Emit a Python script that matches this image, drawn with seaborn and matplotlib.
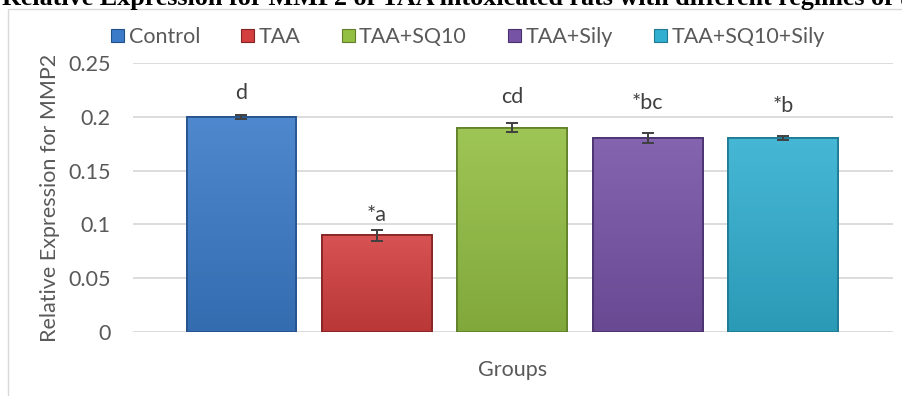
import numpy as np
import pandas as pd
import matplotlib
matplotlib.use('Agg')
import matplotlib.pyplot as plt
import matplotlib.colors as mcolors
import seaborn as sns
from matplotlib.patches import Patch, Rectangle

# Chart data
groups = ['Control', 'TAA', 'TAA+SQ10', 'TAA+Sily', 'TAA+SQ10+Sily']
expression = [0.20, 0.09, 0.19, 0.18, 0.18]
errors = [0.002, 0.005, 0.0045, 0.0045, 0.002]
letters = ['d', '*a', 'cd', '*bc', '*b']
ytick_values = [0, 0.05, 0.1, 0.15, 0.2, 0.25]
ytick_labels = ['0', '0.05', '0.1', '0.15', '0.2', '0.25']

colors = ['#3b7bc8', '#d33f3f', '#93bf43', '#7753a6', '#31afd0']
edges = ['#24508a', '#842222', '#607f28', '#47306c', '#1d7890']
text_grey = '#595959'
fs = 15.5

df = pd.DataFrame({'Group': groups, 'Expression': expression})

sns.set_style('white')
plt.rcParams['font.family'] = ['Lato', 'DejaVu Sans']

fig = plt.figure(figsize=(9.03, 3.96), dpi=100)
ax = fig.add_axes([133 / 903, 1 - 332 / 396, 760 / 903, 269 / 396])

sns.barplot(data=df, x='Group', y='Expression', hue='Group', palette=colors,
            saturation=1, width=0.81, legend=False, ax=ax, zorder=3)

ax.set_xlim(-0.8, 4.81)
ax.set_ylim(0, 0.25)

# shaded look: slightly lighter top, darker bottom, clipped to every bar
for bar, c, ec in zip(ax.patches, colors, edges):
    rgb = np.array(mcolors.to_rgb(c))
    top = rgb + (1 - rgb) * 0.1
    bottom = rgb * 0.88
    t = np.linspace(0, 1, 64)[:, None]
    grad = top * (1 - t[..., None]) + bottom * t[..., None]
    grad = np.repeat(grad, 2, axis=1)
    x0, w, h = bar.get_x(), bar.get_width(), bar.get_height()
    im = ax.imshow(grad, extent=(x0, x0 + w, 0, h), aspect='auto', zorder=3.1, origin='upper')
    im.set_clip_path(bar)
    bar.set_edgecolor(ec)
    bar.set_linewidth(1.2)
    ax.add_patch(Rectangle((x0, 0), w, h, fill=False, edgecolor=ec, linewidth=1.2, zorder=3.2))

ax.set_xlim(-0.8, 4.81)
ax.set_ylim(0, 0.25)

ax.errorbar(range(len(groups)), expression, yerr=errors, fmt='none',
            ecolor='#404040', elinewidth=1.4, capsize=4.3, capthick=1.4, zorder=4)

# significance letters above the bars
label_offsets = [22, 15, 26, 30, 30]
for i, (val, err, lab, off) in enumerate(zip(expression, errors, letters, label_offsets)):
    ax.annotate(lab, xy=(i, val + err), xytext=(0, off * 0.72), textcoords='offset points',
                ha='center', va='center', fontsize=fs, color='#404040')

ax.set_yticks(ytick_values)
ax.set_yticklabels(ytick_labels)
ax.set_xticks([])
ax.yaxis.grid(True, color='#d9d9d9', linewidth=1.3, zorder=0)
ax.set_axisbelow(True)
for s in ax.spines.values():
    s.set_visible(False)
ax.tick_params(axis='y', length=0, pad=16, labelsize=fs, labelcolor=text_grey)
ax.set_ylabel('Relative Expression for MMP2', fontsize=fs, color=text_grey, labelpad=6)
ax.set_xlabel('Groups', fontsize=fs, color=text_grey, labelpad=20)

# legend across the top
handles = [Patch(facecolor=c, edgecolor=e, linewidth=0.8) for c, e in zip(colors, edges)]
fig.legend(handles, groups, loc='center', bbox_to_anchor=(468 / 903, 1 - 37 / 396),
           ncol=5, frameon=False, fontsize=fs, labelcolor=text_grey,
           handlelength=0.6, handleheight=0.6, handletextpad=0.2, columnspacing=1.92)

# chart area border (partly cut off)
fig.patches.append(Rectangle((8 / 903, -0.1), 1.2, 1 - 9 / 396 + 0.1, transform=fig.transFigure,
                             fill=False, edgecolor='#d9d9d9', linewidth=1.0))

# title, cut by the top edge of the image
fig.text(0.002, 1 - 5.5 / 396,
         'Relative Expression for MMP2 of TAA intoxicated rats with different regimes of treatment',
         family='Liberation Serif', fontweight='bold', fontsize=18.8, color='black',
         ha='left', va='baseline')

fig.savefig('out.png', dpi=100)
